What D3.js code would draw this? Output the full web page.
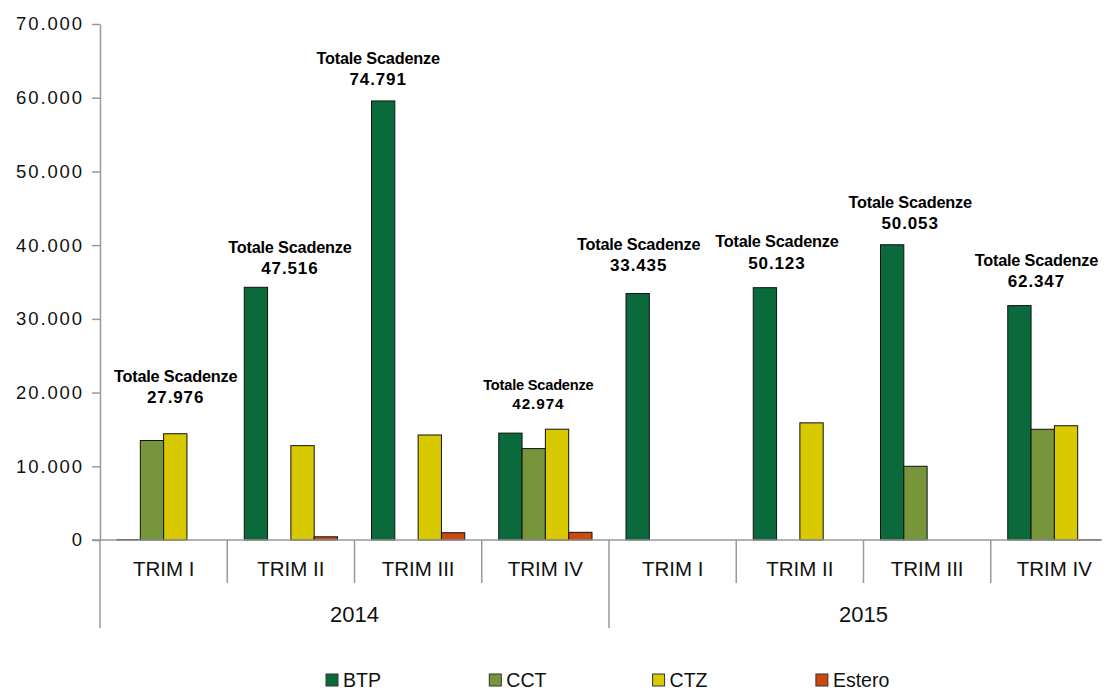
<!DOCTYPE html>
<html>
<head>
<meta charset="utf-8">
<script src="https://cdn.jsdelivr.net/npm/d3@7"></script>
<style>
  body { margin: 0; background: #fff; }
  svg { display: block; font-family: "Liberation Sans", Arial, sans-serif; }
</style>
</head>
<body>
<div id="chart-area"></div>
<script>
// data
const quarters = ["TRIM I", "TRIM II", "TRIM III", "TRIM IV", "TRIM I", "TRIM II", "TRIM III", "TRIM IV"]
const years = ["2014", "2015"]
const series = ["BTP", "CCT", "CTZ", "Estero"]
const btp = [60, 34280, 59560, 14500, 33435, 34230, 40053, 31800]
const cct = [13500, 0, 0, 12400, 0, 0, 10000, 15020]
const ctz = [14416, 12800, 14245, 15030, 0, 15893, 0, 15500]
const estero = [0, 436, 986, 1044, 0, 0, 0, 27]
const totals = ["27.976", "47.516", "74.791", "42.974", "33.435", "50.123", "50.053", "62.347"]
const yTicks = [0, 10000, 20000, 30000, 40000, 50000, 60000, 70000]

// annotation placement (value at first baseline, x shift from group centre, font size)
const labelAt = [21476, 38950, 64600, 20400, 39300, 39700, 45100, 37200]
const labelDx = [12, -1, -40, -7, -34, -23, -17, -18]
const labelSize = [16.3, 16.3, 16.3, 14.6, 16.3, 16.3, 16.3, 16.3]

const colors = { BTP: "#0b6a3b", CCT: "#77953b", CTZ: "#d8c900", Estero: "#cc4a0e" }

const MARGIN = { LEFT: 100, TOP: 24 }
const W = 1107, H = 691
const PLOT_W = 1018
const PLOT_H = 516

const svg = d3.select("#chart-area").append("svg")
  .attr("width", W)
  .attr("height", H)

const g = svg.append("g")
  .attr("transform", `translate(${MARGIN.LEFT}, ${MARGIN.TOP})`)

const idx = d3.range(quarters.length)
const x0 = d3.scaleBand().domain(idx).range([0, PLOT_W]).paddingInner(0).paddingOuter(0)
const x1 = d3.scaleBand().domain(series).range([17, x0.bandwidth() - 17])
const y = d3.scaleLinear().domain([0, 70000]).range([PLOT_H, 0])

const fmt = d => d3.format(",")(d).replace(/,/g, ".")

// y axis
const yAxis = g.append("g")
  .call(d3.axisLeft(y).tickValues(yTicks).tickFormat(fmt).tickSize(8).tickSizeOuter(0))
yAxis.select(".domain").attr("stroke", "#999").attr("stroke-width", 1.5)
yAxis.selectAll(".tick line").attr("stroke", "#999").attr("stroke-width", 1.5)
yAxis.selectAll(".tick text")
  .attr("x", -16)
  .attr("font-size", "18.5px")
  .attr("letter-spacing", "1.9px")
  .attr("fill", "#111")
  .attr("font-family", "Liberation Sans, Arial, sans-serif")

// bars
const valueOf = { BTP: btp, CCT: cct, CTZ: ctz, Estero: estero }
const groups = g.selectAll(".grp").data(idx).enter().append("g")
  .attr("transform", i => `translate(${x0(i)}, 0)`)
groups.selectAll("rect")
  .data(i => series.map(s => ({ s, v: valueOf[s][i] })).filter(d => d.v > 0))
  .enter().append("rect")
  .attr("x", d => x1(d.s))
  .attr("width", x1.bandwidth())
  .attr("y", d => y(d.v))
  .attr("height", d => PLOT_H - y(d.v))
  .attr("fill", d => colors[d.s])
  .attr("stroke", "#111")
  .attr("stroke-width", 1)

// x axis line + category separators
g.append("line")
  .attr("x1", -8).attr("x2", 1001)
  .attr("y1", PLOT_H).attr("y2", PLOT_H)
  .attr("stroke", "#999").attr("stroke-width", 1.5)

g.selectAll(".sep").data(d3.range(quarters.length)).enter().append("line")
  .attr("x1", i => x0(i)).attr("x2", i => x0(i))
  .attr("y1", PLOT_H)
  .attr("y2", i => i % 4 === 0 ? PLOT_H + 88 : PLOT_H + 43)
  .attr("stroke", "#999").attr("stroke-width", 1.5)

g.selectAll(".qlab").data(idx).enter().append("text")
  .attr("x", i => x0(i) + x0.bandwidth() / 2)
  .attr("y", PLOT_H + 36)
  .attr("text-anchor", "middle")
  .attr("font-size", "20.5px")
  .attr("fill", "#111")
  .text(i => quarters[i])

g.selectAll(".ylab").data(years).enter().append("text")
  .attr("x", (d, k) => x0(k * 4) + x0.bandwidth() * 2)
  .attr("y", PLOT_H + 82)
  .attr("text-anchor", "middle")
  .attr("font-size", "22px")
  .attr("fill", "#111")
  .text(d => d)

// total labels
const lab = g.selectAll(".tot").data(idx).enter().append("text")
  .attr("text-anchor", "middle")
  .attr("font-weight", "bold")
  .attr("fill", "#000")
  .attr("transform", i => `translate(${x0(i) + x0.bandwidth() / 2 + labelDx[i]}, ${y(labelAt[i])})`)
lab.append("tspan").attr("x", 0).attr("y", 0)
  .attr("font-size", i => labelSize[i] + "px")
  .attr("letter-spacing", "-0.2px").text("Totale Scadenze")
lab.append("tspan").attr("x", 0).attr("y", i => labelSize[i] * 1.3)
  .attr("font-size", i => (labelSize[i] + 0.7) + "px")
  .attr("letter-spacing", "0.9px").text(i => totals[i])

// legend
const legend = svg.append("g").attr("transform", "translate(326, 674)")
const item = legend.selectAll("g").data(series).enter().append("g")
  .attr("transform", (d, k) => `translate(${k * 163.3}, 0)`)
item.append("rect")
  .attr("width", 12).attr("height", 12)
  .attr("fill", d => colors[d])
  .attr("stroke", "#333").attr("stroke-width", 1)
item.append("text")
  .attr("x", 17).attr("y", 12.5)
  .attr("font-size", "19.5px")
  .attr("fill", "#111")
  .text(d => d)
</script>
</body>
</html>
